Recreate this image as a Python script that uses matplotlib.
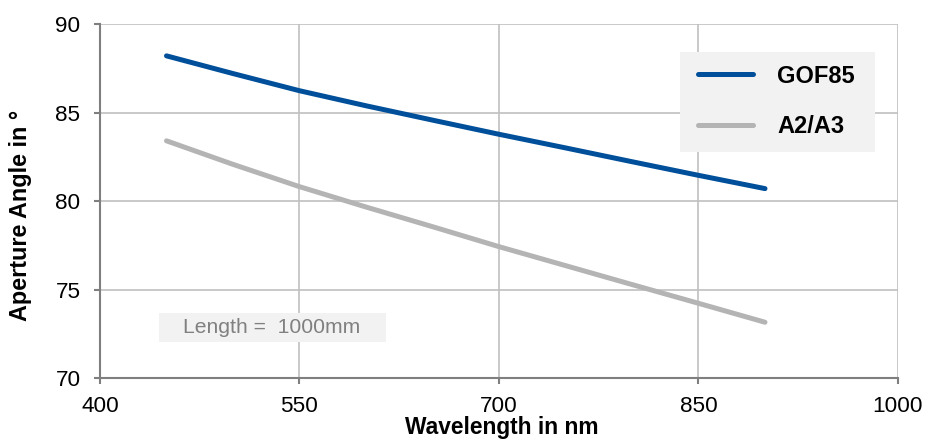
import matplotlib
matplotlib.use("Agg")
import matplotlib.pyplot as plt
from matplotlib.patches import Rectangle

plt.rcParams['font.family'] = ['Liberation Sans', 'DejaVu Sans']

wavelength = [450, 500, 550, 600, 650, 700, 750, 800, 850, 900]
gof85 = [88.2, 87.2, 86.23, 85.38, 84.57, 83.77, 83.0, 82.22, 81.45, 80.7]
a2a3 = [83.4, 82.07, 80.81, 79.66, 78.55, 77.42, 76.35, 75.28, 74.22, 73.15]
series_names = ["GOF85", "A2/A3"]
xticks = [400, 550, 700, 850, 1000]
yticks = [70, 75, 80, 85, 90]
annotation = "Length =  1000mm"

fig = plt.figure(figsize=(9.26, 4.4), dpi=100)
ax = fig.add_axes([100/926, 1-378/440, 798/926, 354/440])

ax.plot(wavelength, gof85, color="#004f9a", lw=3.6, solid_capstyle="round", label=series_names[0], zorder=3)
ax.plot(wavelength, a2a3, color="#b4b4b4", lw=3.6, solid_capstyle="round", label=series_names[1], zorder=3)

ax.set_xlim(400, 1000)
ax.set_ylim(70, 90)
ax.set_xticks(xticks)
ax.set_yticks(yticks)
ax.grid(True, color="#c0c0c0", lw=1.2)
ax.set_axisbelow(True)
for s in ["top", "right"]:
    ax.spines[s].set_visible(False)
for s in ["left", "bottom"]:
    ax.spines[s].set_color("#7f7f7f")
    ax.spines[s].set_linewidth(1.5)
ax.tick_params(axis="both", length=4.5, width=1.5, color="#7f7f7f", labelsize=16.2, labelcolor="black")
ax.tick_params(axis="x", pad=8.5)
ax.tick_params(axis="y", pad=9.5)

ax.set_xlabel("Wavelength in nm", fontsize=16.4, fontweight="bold")
ax.set_ylabel("Aperture Angle in °", fontsize=16.8, fontweight="bold")
ax.xaxis.set_label_coords(0.503, -0.106)
ax.yaxis.set_label_coords(-0.085, 0.459)

# legend background
ax.add_patch(Rectangle(((680-100)/798, (378-151.7)/354), 195/798, 100/354, transform=ax.transAxes,
                       facecolor="#f2f2f2", edgecolor="none", zorder=4))
leg = ax.legend(loc="upper left", bbox_to_anchor=((698-100)/798, (378-64.5)/354),
                frameon=False, prop={"size": 17, "weight": "bold"}, handlelength=2.35,
                handletextpad=1.0, labelspacing=1.18, borderpad=0, borderaxespad=0)
leg.set_zorder(5)

# annotation box
ax.add_patch(Rectangle(((159-100)/798, (378-342)/354), 227/798, 29/354, transform=ax.transAxes,
                       facecolor="#f2f2f2", edgecolor="none", zorder=4))
ax.text((183-100)/798, (378-327.5)/354, annotation, transform=ax.transAxes, fontsize=15.2,
        color="#808080", va="center", ha="left", zorder=5)

fig.savefig("out.png", dpi=100)
